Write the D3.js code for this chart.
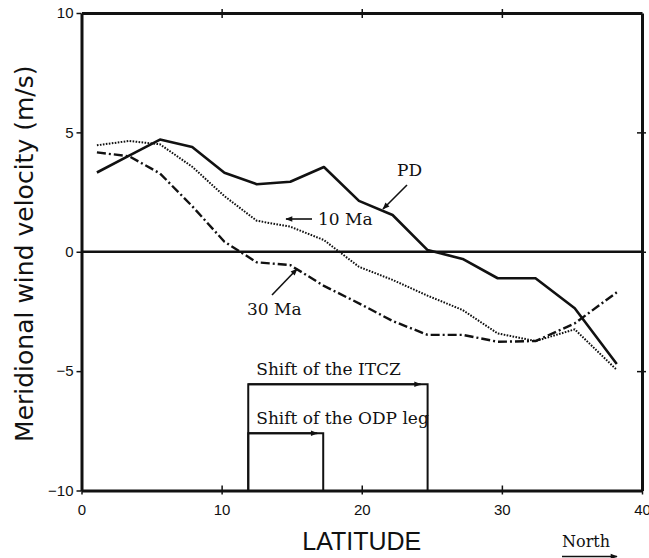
<!DOCTYPE html>
<html>
<head>
<meta charset="utf-8">
<script src="https://cdn.jsdelivr.net/npm/d3@7"></script>
<style>
  body { margin: 0; background: #fff; }
  svg { display: block; }
  .tick text { font-family: "Liberation Sans", Arial, sans-serif; font-size: 15px; fill: #111; }
  .note { font-family: "DejaVu Serif", serif; font-size: 17px; fill: #111; }
</style>
</head>
<body>
<svg></svg>
<script>
var screen = {width: 649, height: 558}
var margins = {top: 13, right: 7, bottom: 67.5, left: 81.5}

// latitude of the model grid points
var latitudes = [1.1, 3.4, 5.6, 7.9, 10.2, 12.5, 14.9, 17.3, 19.8, 22.2, 24.7, 27.2, 29.7, 32.4, 35.2, 38.2]
// meridional wind (m/s)
var pdValues   = [3.32, 4.03, 4.70, 4.39, 3.31, 2.83, 2.93, 3.55, 2.13, 1.54, 0.07, -0.30, -1.11, -1.11, -2.37, -4.70]
var ma10Values = [4.46, 4.64, 4.50, 3.56, 2.33, 1.30, 1.05, 0.49, -0.63, -1.18, -1.84, -2.44, -3.42, -3.74, -3.25, -4.95]
var ma30Values = [4.16, 4.00, 3.28, 1.91, 0.42, -0.44, -0.56, -1.43, -2.16, -2.90, -3.48, -3.48, -3.77, -3.74, -3.00, -1.70]

var xTicks = [0, 10, 20, 30, 40]
var yTicks = [-10, -5, 0, 5, 10]

// shift boxes: [start lat, end lat, level]
var itczShift = [11.9, 24.7, -5.55]
var odpShift = [11.9, 17.25, -7.6]

var svg = d3.select("svg").attr("width", screen.width).attr("height", screen.height)

var width = screen.width - margins.left - margins.right
var height = screen.height - margins.top - margins.bottom

var xScale = d3.scaleLinear().domain([0, 40]).range([margins.left, margins.left + width])
var yScale = d3.scaleLinear().domain([-10, 10]).range([margins.top + height, margins.top])

var defs = svg.append("defs")
defs.append("marker")
    .attr("id", "head")
    .attr("viewBox", "0 0 10 10")
    .attr("refX", 9).attr("refY", 5)
    .attr("markerWidth", 9).attr("markerHeight", 7)
    .attr("markerUnits", "userSpaceOnUse")
    .attr("orient", "auto")
    .append("path").attr("d", "M0,1L10,5L0,9Z").attr("fill", "#111")

// zero line
svg.append("line")
    .attr("x1", xScale(0)).attr("x2", xScale(40))
    .attr("y1", yScale(0)).attr("y2", yScale(0))
    .attr("stroke", "#111").attr("stroke-width", 2.5)

// axes
var styleAxis = function(g) {
    g.select(".domain").attr("stroke", "#111").attr("stroke-width", 3)
    g.selectAll(".tick line").attr("stroke", "#111").attr("stroke-width", 1.5)
}

svg.append("g")
    .attr("transform", "translate(" + xScale(0) + ",0)")
    .call(d3.axisLeft(yScale).tickValues(yTicks).tickSize(5).tickSizeOuter(0).tickPadding(3))
    .call(styleAxis)

svg.append("g")
    .attr("transform", "translate(0," + yScale(-10) + ")")
    .call(d3.axisBottom(xScale).tickValues(xTicks).tickSize(4).tickSizeOuter(0).tickPadding(10))
    .call(styleAxis)
    .call(function(g) { g.selectAll(".tick line").attr("y1", -5) })

svg.append("g")
    .attr("transform", "translate(0," + yScale(10) + ")")
    .call(d3.axisTop(xScale).tickValues([10, 20, 30]).tickSize(4).tickSizeOuter(0).tickFormat(""))
    .call(styleAxis)
    .call(function(g) { g.selectAll(".tick line").attr("y1", 5) })

svg.append("g")
    .attr("transform", "translate(" + xScale(40) + ",0)")
    .call(d3.axisRight(yScale).tickValues([-5, 0, 5]).tickSize(4).tickSizeOuter(0).tickFormat(""))
    .call(styleAxis)
    .call(function(g) { g.selectAll(".tick line").attr("x1", -5) })

// curves
var line = d3.line()
    .x(function(d) { return xScale(d[0]) })
    .y(function(d) { return yScale(d[1]) })

var series = [
    {values: pdValues, width: 2.6, dash: null},
    {values: ma10Values, width: 2, dash: "1.6,1.4"},
    {values: ma30Values, width: 2.4, dash: "9,3,2,3"}
]

series.forEach(function(s) {
    svg.append("path")
        .datum(latitudes.map(function(lat, i) { return [lat, s.values[i]] }))
        .attr("d", line)
        .attr("fill", "none")
        .attr("stroke", "#111")
        .attr("stroke-width", s.width)
        .attr("stroke-linejoin", "round")
        .attr("stroke-dasharray", s.dash)
})

// shift boxes
var drawShift = function(shift, label, arrowEnd) {
    var x0 = xScale(shift[0]), x1 = xScale(shift[1]), y0 = yScale(shift[2]), yb = yScale(-10)
    svg.append("path")
        .attr("d", "M" + x0 + "," + yb + "V" + y0 + "H" + x1 + "V" + yb)
        .attr("fill", "none").attr("stroke", "#111").attr("stroke-width", 2)
    svg.append("line")
        .attr("x1", x0).attr("x2", x1 - arrowEnd)
        .attr("y1", y0).attr("y2", y0)
        .attr("stroke", "#111").attr("stroke-width", 2)
        .attr("marker-end", "url(#head)")
    svg.append("text").attr("class", "note")
        .attr("x", x0 + 8).attr("y", y0 - 9)
        .text(label)
}
drawShift(itczShift, "Shift of the ITCZ", 7)
drawShift(odpShift, "Shift of the ODP leg", 6)

// curve labels
var arrow = function(x1, y1, x2, y2) {
    svg.append("line")
        .attr("x1", x1).attr("y1", y1).attr("x2", x2).attr("y2", y2)
        .attr("stroke", "#111").attr("stroke-width", 1.6)
        .attr("marker-end", "url(#head)")
}

svg.append("text").attr("class", "note").attr("x", 397).attr("y", 176).text("PD")
arrow(407, 185, 383, 209)

svg.append("text").attr("class", "note").attr("x", 318).attr("y", 225).text("10 Ma")
arrow(312, 219, 286, 219)

svg.append("text").attr("class", "note").attr("x", 247).attr("y", 315).text("30 Ma")
arrow(272, 295, 297, 269)

// axis titles
svg.append("text")
    .attr("x", xScale(20)).attr("y", 550)
    .attr("text-anchor", "middle")
    .style("font-family", "'Liberation Sans', Arial, sans-serif")
    .style("font-size", "25px")
    .style("fill", "#111")
    .text("LATITUDE")

svg.append("text")
    .attr("transform", "translate(33," + (yScale(0) + 2) + ") rotate(-90)")
    .attr("text-anchor", "middle")
    .style("font-family", "'DejaVu Sans', sans-serif")
    .style("font-size", "25px")
    .style("fill", "#111")
    .text("Meridional wind velocity (m/s)")

svg.append("text").attr("class", "note")
    .style("font-size", "16px")
    .attr("x", 562).attr("y", 547).text("North")
arrow(562, 556.5, 617, 556.5)
</script>
</body>
</html>
